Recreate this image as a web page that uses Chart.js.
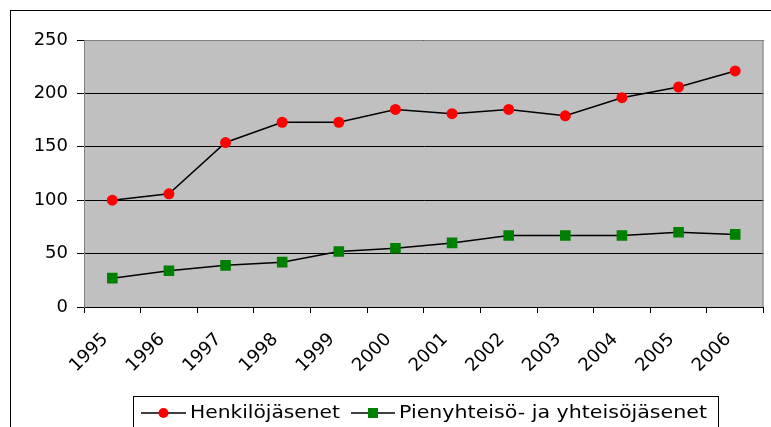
<!DOCTYPE html>
<html>
<head>
<meta charset="utf-8">
<style>
  html, body { margin: 0; padding: 0; background: #ffffff; }
  #chart { display: block; }
</style>
<script src="https://cdn.jsdelivr.net/npm/chart.js@4.4.1/dist/chart.umd.min.js"></script>
</head>
<body>
<canvas id="chart" width="771" height="427"></canvas>
<script>
// Data
const years = ['1995', '1996', '1997', '1998', '1999', '2000', '2001', '2002', '2003', '2004', '2005', '2006'];
const henkilojasenet = [100, 106, 154, 173, 173, 185, 181, 185, 179, 196, 206, 221];
const yhteisojasenet = [27, 34, 39, 42, 52, 55, 60, 67, 67, 67, 70, 68];
const seriesNames = ['Henkilöjäsenet', 'Pienyhteisö- ja yhteisöjäsenet'];
const yTicks = [0, 50, 100, 150, 200, 250];

const FONT = '"DejaVu Sans", Verdana, sans-serif';

// Plot background, frame and the hand drawn legend box
const frame = {
    id: 'frame',
    beforeDraw(chart) {
        const ctx = chart.ctx;
        const a = chart.chartArea;
        ctx.save();
        ctx.fillStyle = '#ffffff';
        ctx.fillRect(0, 0, chart.width, chart.height);
        ctx.strokeStyle = '#000000';
        ctx.lineWidth = 1;
        ctx.strokeRect(10.5, 10.5, 900, 600);
        ctx.fillStyle = '#c0c0c0';
        ctx.fillRect(a.left, a.top, a.right - a.left, a.bottom - a.top);
        ctx.restore();
    },
    beforeDatasetsDraw(chart) {
        const ctx = chart.ctx;
        const a = chart.chartArea;
        ctx.save();
        ctx.strokeStyle = '#808080';
        ctx.lineWidth = 1;
        ctx.beginPath();
        ctx.moveTo(a.left, a.top + 0.5);
        ctx.lineTo(a.right - 0.5, a.top + 0.5);
        ctx.lineTo(a.right - 0.5, a.bottom);
        ctx.stroke();
        ctx.restore();
    },
    afterDraw(chart) {
        const ctx = chart.ctx;
        ctx.save();
        ctx.strokeStyle = '#000000';
        ctx.lineWidth = 1;
        ctx.strokeRect(133.5, 396.5, 585, 60);

        // line + marker, then text stretched to the width seen in the picture
        const items = [
            { x0: 141, x1: 186, tx: 190, tw: 150, color: '#ff0000', style: 'circle' },
            { x0: 351, x1: 395, tx: 399, tw: 308, color: '#008000', style: 'rect' }
        ];
        const y = 413;
        ctx.font = '18px ' + FONT;
        ctx.textBaseline = 'middle';
        items.forEach((it, i) => {
            ctx.strokeStyle = '#000000';
            ctx.lineWidth = 1.5;
            ctx.beginPath();
            ctx.moveTo(it.x0, y);
            ctx.lineTo(it.x1, y);
            ctx.stroke();
            const cx = (it.x0 + it.x1) / 2;
            ctx.fillStyle = it.color;
            if (it.style === 'circle') {
                ctx.beginPath();
                ctx.arc(cx, y, 5, 0, Math.PI * 2);
                ctx.fill();
            } else {
                ctx.fillRect(cx - 5, y - 5, 10, 10);
            }
            ctx.fillStyle = '#000000';
            const w = ctx.measureText(seriesNames[i]).width;
            ctx.save();
            ctx.translate(it.tx, y);
            ctx.scale(it.tw / w, 1);
            ctx.fillText(seriesNames[i], 0, 0);
            ctx.restore();
        });
        ctx.restore();
    }
};

const ctx = document.getElementById('chart').getContext('2d');
const chart = new Chart(ctx, {
    type: 'line',
    data: {
        labels: years,
        datasets: [
            {
                label: seriesNames[0],
                data: henkilojasenet,
                borderColor: '#000000',
                borderWidth: 1.5,
                pointStyle: 'circle',
                pointRadius: 5.5,
                pointBorderWidth: 0,
                pointBackgroundColor: '#ff0000',
                pointBorderColor: '#ff0000',
                tension: 0
            },
            {
                label: seriesNames[1],
                data: yhteisojasenet,
                borderColor: '#000000',
                borderWidth: 1.5,
                pointStyle: 'rect',
                pointRadius: 7.5,
                pointBorderWidth: 0,
                pointBackgroundColor: '#008000',
                pointBorderColor: '#008000',
                tension: 0
            }
        ]
    },
    options: {
        responsive: false,
        animation: false,
        layout: {
            padding: { left: 0, top: 40, right: 5, bottom: 0 }
        },
        plugins: {
            legend: { display: false },
            tooltip: { enabled: false }
        },
        scales: {
            x: {
                offset: true,
                grid: {
                    offset: true,
                    drawOnChartArea: false,
                    drawTicks: true,
                    tickLength: 6,
                    color: '#000000'
                },
                border: { color: '#000000', width: 1 },
                ticks: {
                    color: '#000000',
                    font: { family: FONT, size: 18 },
                    minRotation: 45,
                    maxRotation: 45,
                    autoSkip: false,
                    padding: 16,
                    labelOffset: -7
                },
                afterFit: function(scale) {
                    scale.height = 120;
                }
            },
            y: {
                min: 0,
                max: 250,
                afterBuildTicks: function(scale) {
                    scale.ticks = yTicks.map(v => ({ value: v }));
                },
                grid: {
                    color: '#000000',
                    tickLength: 7,
                    lineWidth: 1
                },
                border: { color: '#808080', width: 1 },
                ticks: {
                    color: '#000000',
                    font: { family: FONT, size: 18 },
                    padding: 9
                },
                afterFit: function(scale) {
                    scale.width = 84;
                }
            }
        }
    },
    plugins: [frame]
});
</script>
</body>
</html>
